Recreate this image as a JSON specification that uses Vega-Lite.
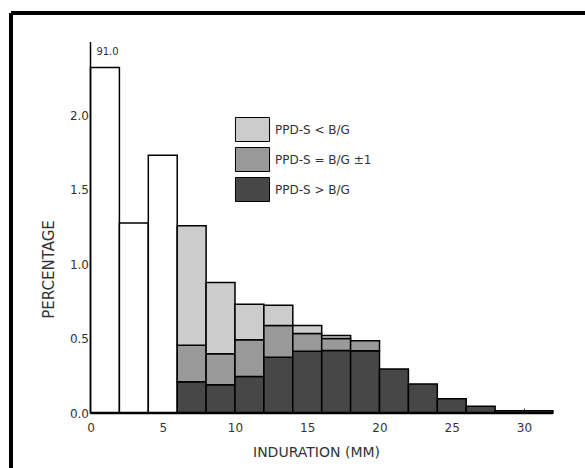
{
  "$schema": "https://vega.github.io/schema/vega-lite/v6.json",
  "width": 574,
  "height": 455,
  "autosize": {"type": "none"},
  "padding": {"left": 11, "top": 13, "right": 0, "bottom": 0},
  "background": "white",
  "config": {
    "view": {"stroke": null},
    "font": "DejaVu Sans",
    "axis": {"labelColor": "#333", "titleColor": "#333", "tickColor": "#222", "grid": false, "domain": false}
  },
  "datasets": {
    "open": [
      {"x0": 0, "x1": 2, "pct": 2.32, "note": "91.0"},
      {"x0": 2, "x1": 4, "pct": 1.275},
      {"x0": 4, "x1": 6, "pct": 1.73}
    ],
    "split": [
      {"x0": 6, "x1": 8, "category": "PPD-S > B/G", "pct": 0.21},
      {"x0": 6, "x1": 8, "category": "PPD-S = B/G ±1", "pct": 0.245},
      {"x0": 6, "x1": 8, "category": "PPD-S < B/G", "pct": 0.802},
      {"x0": 8, "x1": 10, "category": "PPD-S > B/G", "pct": 0.19},
      {"x0": 8, "x1": 10, "category": "PPD-S = B/G ±1", "pct": 0.208},
      {"x0": 8, "x1": 10, "category": "PPD-S < B/G", "pct": 0.478},
      {"x0": 10, "x1": 12, "category": "PPD-S > B/G", "pct": 0.245},
      {"x0": 10, "x1": 12, "category": "PPD-S = B/G ±1", "pct": 0.247},
      {"x0": 10, "x1": 12, "category": "PPD-S < B/G", "pct": 0.238},
      {"x0": 12, "x1": 14, "category": "PPD-S > B/G", "pct": 0.375},
      {"x0": 12, "x1": 14, "category": "PPD-S = B/G ±1", "pct": 0.212},
      {"x0": 12, "x1": 14, "category": "PPD-S < B/G", "pct": 0.136},
      {"x0": 14, "x1": 16, "category": "PPD-S > B/G", "pct": 0.415},
      {"x0": 14, "x1": 16, "category": "PPD-S = B/G ±1", "pct": 0.118},
      {"x0": 14, "x1": 16, "category": "PPD-S < B/G", "pct": 0.054},
      {"x0": 16, "x1": 18, "category": "PPD-S > B/G", "pct": 0.42},
      {"x0": 16, "x1": 18, "category": "PPD-S = B/G ±1", "pct": 0.08},
      {"x0": 16, "x1": 18, "category": "PPD-S < B/G", "pct": 0.02},
      {"x0": 18, "x1": 20, "category": "PPD-S > B/G", "pct": 0.418},
      {"x0": 18, "x1": 20, "category": "PPD-S = B/G ±1", "pct": 0.067},
      {"x0": 20, "x1": 22, "category": "PPD-S > B/G", "pct": 0.295},
      {"x0": 22, "x1": 24, "category": "PPD-S > B/G", "pct": 0.195},
      {"x0": 24, "x1": 26, "category": "PPD-S > B/G", "pct": 0.096},
      {"x0": 26, "x1": 28, "category": "PPD-S > B/G", "pct": 0.045},
      {"x0": 28, "x1": 30, "category": "PPD-S > B/G", "pct": 0.015},
      {"x0": 30, "x1": 32, "category": "PPD-S > B/G", "pct": 0.015}
    ]
  },
  "layer": [
    {
      "data": {"name": "open"},
      "mark": {"type": "bar", "fill": "white", "stroke": "black", "strokeWidth": 1.5},
      "encoding": {
        "x": {
          "field": "x0", "type": "quantitative",
          "scale": {"domain": [-5.502, 34.221], "nice": false, "zero": false},
          "axis": {
            "orient": "bottom", "offset": -55, "values": [0, 5, 10, 15, 20, 25, 30], "format": "d",
            "tickSize": -5, "labelPadding": 14, "labelFontSize": 12,
            "title": "INDURATION (MM)", "titleX": 305, "titleY": 39, "titleBaseline": "middle",
            "titleFontSize": 14, "titleFontWeight": "normal"
          }
        },
        "x2": {"field": "x1"},
        "y": {
          "field": "pct", "type": "quantitative",
          "scale": {"domain": [-0.369, 2.685], "nice": false},
          "axis": {
            "orient": "left", "offset": -79.5, "values": [0, 0.5, 1, 1.5, 2], "format": ".1f",
            "tickSize": -5, "labelPadding": 7, "labelFontSize": 12,
            "title": "PERCENTAGE", "titleX": -42.5, "titleY": 256, "titleAngle": -90, "titleBaseline": "middle",
            "titleFontSize": 15, "titleFontWeight": "normal"
          }
        },
        "y2": {"datum": 0}
      }
    },
    {
      "data": {"name": "split"},
      "transform": [
        {"stack": "pct", "groupby": ["x0"], "as": ["lo", "hi"], "sort": [{"field": "category", "order": "descending"}]}
      ],
      "mark": {"type": "bar", "stroke": "black", "strokeWidth": 1.5},
      "encoding": {
        "x": {"field": "x0", "type": "quantitative", "scale": {"domain": [-5.502, 34.221], "nice": false, "zero": false}},
        "x2": {"field": "x1"},
        "y": {"field": "lo", "type": "quantitative", "scale": {"domain": [-0.369, 2.685], "nice": false}},
        "y2": {"field": "hi"},
        "color": {
          "field": "category", "type": "nominal",
          "scale": {"domain": ["PPD-S < B/G", "PPD-S = B/G ±1", "PPD-S > B/G"], "range": ["#cccccc", "#999999", "#474747"]},
          "legend": {
            "title": null, "orient": "none", "legendX": 229, "legendY": 104, "padding": 0,
            "symbolType": "M-1.42,-1L1.42,-1L1.42,1L-1.42,1Z", "symbolSize": 576,
            "symbolStrokeColor": "black", "symbolStrokeWidth": 1, "symbolOpacity": 1,
            "labelFontSize": 12, "labelColor": "#333", "labelOffset": 10, "rowPadding": 1
          }
        }
      }
    },
    {
      "data": {"values": [{}]},
      "mark": {"type": "rule", "color": "black", "strokeWidth": 4},
      "encoding": {
        "x": {"datum": -5.502, "type": "quantitative"},
        "y": {"datum": -0.369, "type": "quantitative"},
        "y2": {"datum": 2.685}
      }
    },
    {
      "data": {"values": [{}]},
      "mark": {"type": "rule", "color": "black", "strokeWidth": 4},
      "encoding": {
        "y": {"datum": 2.685, "type": "quantitative"},
        "x": {"datum": -5.502, "type": "quantitative"},
        "x2": {"datum": 34.221}
      }
    },
    {
      "data": {"values": [{}]},
      "mark": {"type": "rule", "color": "black", "strokeWidth": 1.5},
      "encoding": {
        "x": {"datum": 0, "type": "quantitative"},
        "y": {"datum": 0, "type": "quantitative"},
        "y2": {"datum": 2.49}
      }
    },
    {
      "data": {"values": [{}]},
      "mark": {"type": "rule", "color": "black", "strokeWidth": 2.5},
      "encoding": {
        "y": {"datum": 0, "type": "quantitative"},
        "x": {"datum": 0, "type": "quantitative"},
        "x2": {"datum": 32}
      }
    },
    {
      "data": {"name": "open"},
      "transform": [{"filter": "datum.note"}],
      "mark": {"type": "text", "fontSize": 10, "color": "#333", "dx": 17, "dy": -15, "align": "center"},
      "encoding": {
        "x": {"field": "x0", "type": "quantitative"},
        "y": {"field": "pct", "type": "quantitative"},
        "text": {"field": "note"}
      }
    }
  ]
}
